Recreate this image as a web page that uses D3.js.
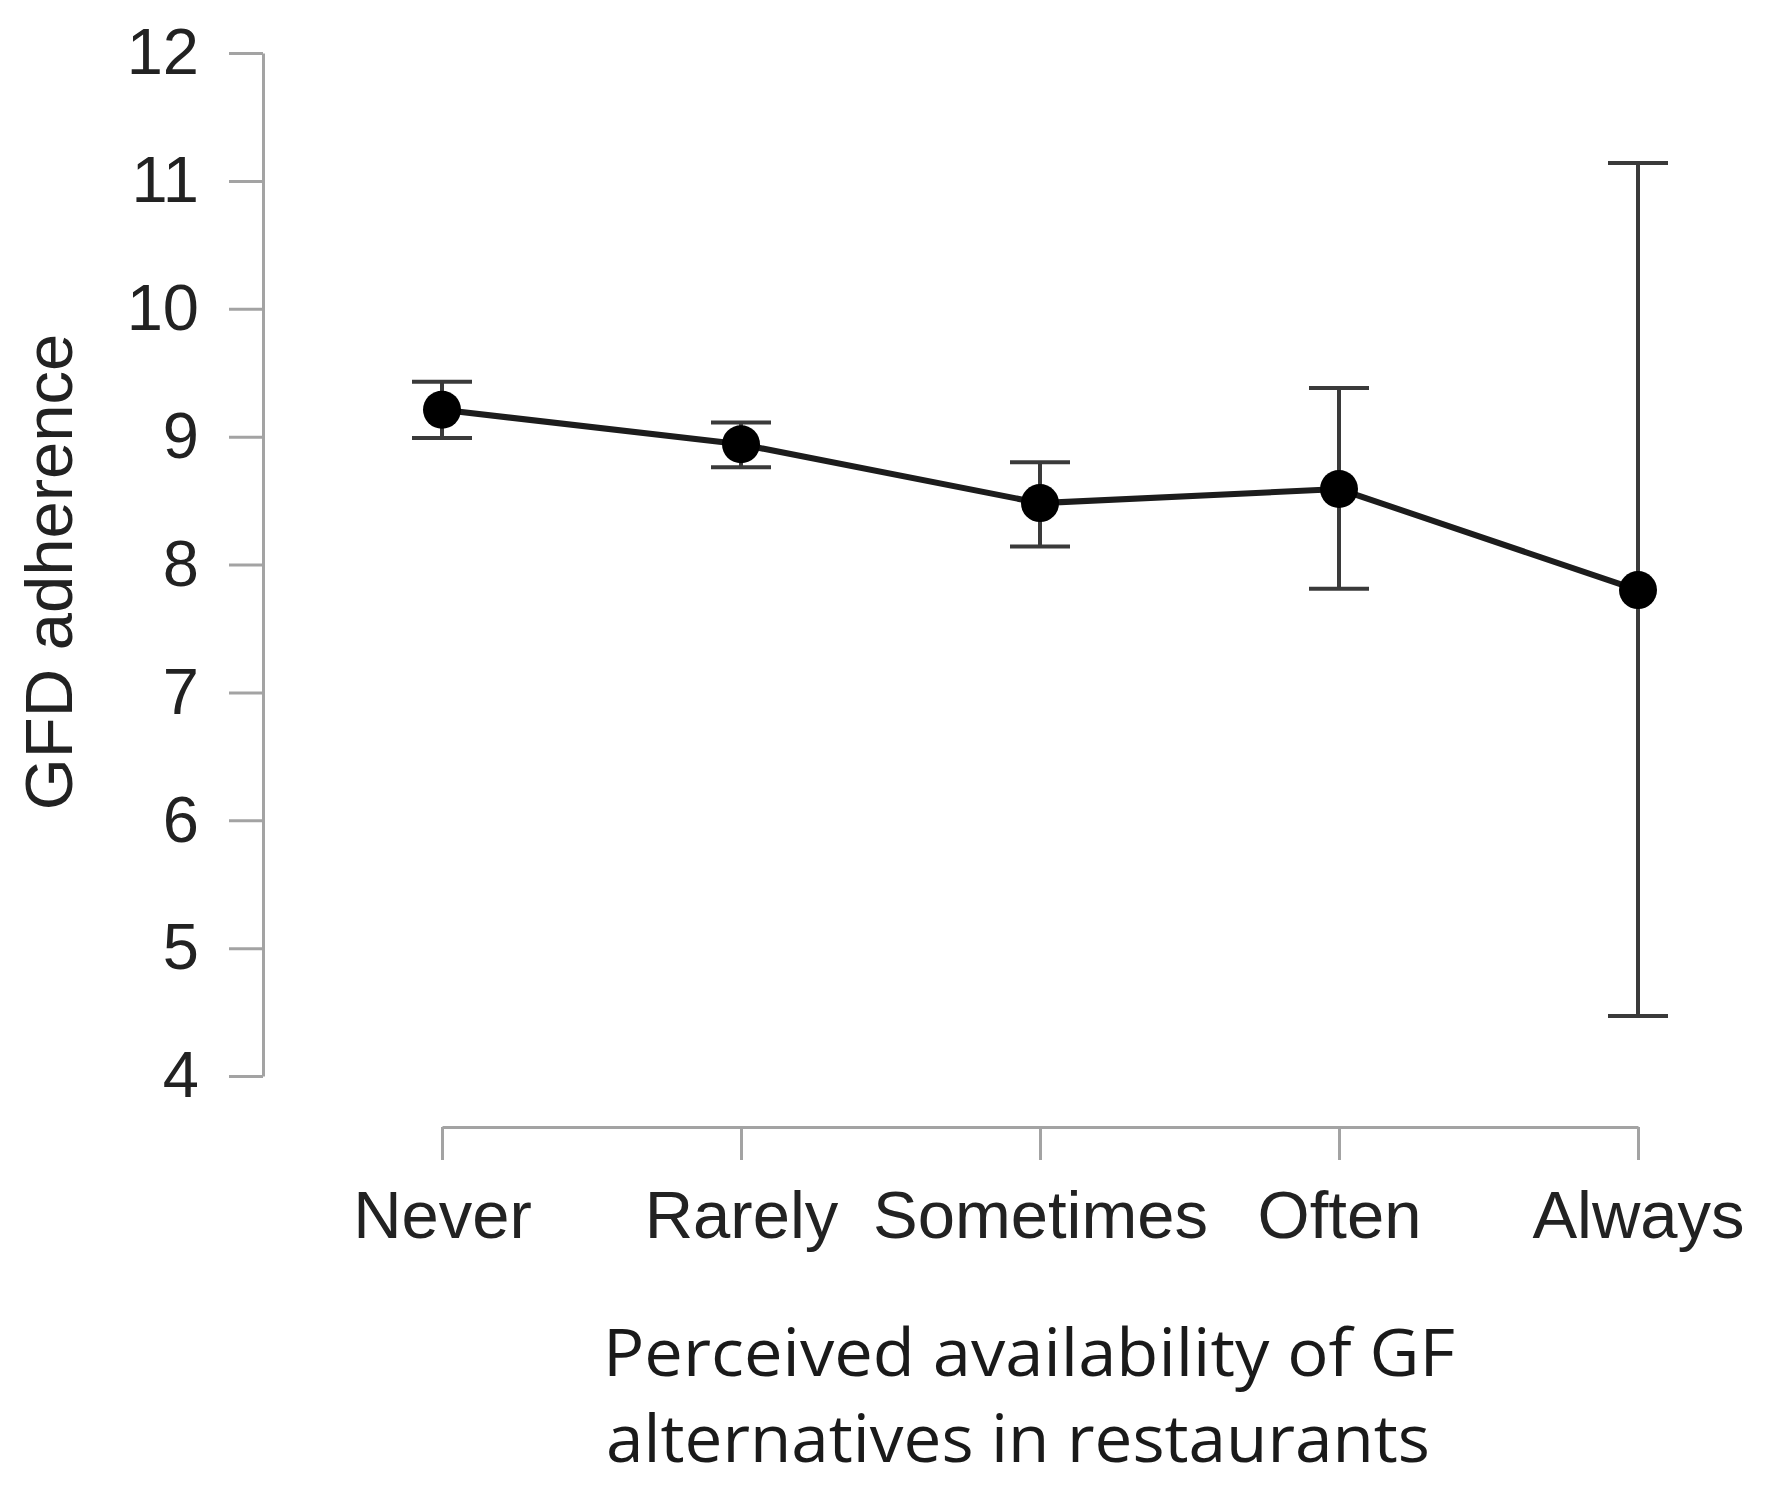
<!DOCTYPE html>
<html>
<head>
<meta charset="utf-8">
<script src="https://cdn.jsdelivr.net/npm/d3@7"></script>
<style>
  html, body { margin: 0; padding: 0; background: #fff; }
  svg { display: block; }
</style>
</head>
<body>
<svg id="chart" width="1779" height="1502"></svg>
<script>
const categories = ["Never", "Rarely", "Sometimes", "Often", "Always"];
const means = [9.21, 8.94, 8.48, 8.59, 7.80];
const lower = [8.99, 8.76, 8.14, 7.81, 4.47];
const upper = [9.43, 9.11, 8.80, 9.38, 11.14];
const yTicks = [4, 5, 6, 7, 8, 9, 10, 11, 12];
const yTitle = "GFD adherence";
const xTitleLines = ["Perceived availability of GF", "alternatives in restaurants"];

const data = categories.map((c, i) => ({ cat: c, m: means[i], lo: lower[i], hi: upper[i] }));

const svg = d3.select("#chart");
const x = d3.scalePoint().domain(categories).range([442, 1638]);
const y = d3.scaleLinear().domain([4, 12]).range([1076, 53]);

const axisColor = "#a3a3a3";
const labelFont = "'Liberation Sans', Arial, Helvetica, sans-serif";

// Y axis
const gy = svg.append("g").attr("transform", "translate(263,0)")
  .call(d3.axisLeft(y).tickValues(yTicks).tickFormat(d3.format("d")).tickSize(34).tickSizeOuter(0).tickPadding(30));
gy.select(".domain").attr("stroke", axisColor).attr("stroke-width", 3);
gy.selectAll(".tick line").attr("stroke", axisColor).attr("stroke-width", 3);
gy.selectAll(".tick text").attr("font-family", labelFont).attr("font-size", 65).attr("fill", "#222");

// X axis
const gx = svg.append("g").attr("transform", "translate(0,1127)")
  .call(d3.axisBottom(x).tickSize(33).tickSizeOuter(0).tickPadding(30));
gx.select(".domain").attr("stroke", axisColor).attr("stroke-width", 3);
gx.selectAll(".tick line").attr("stroke", axisColor).attr("stroke-width", 3);
gx.selectAll(".tick text").attr("font-family", labelFont).attr("font-size", 67).attr("fill", "#222");

// Error bars
const eb = svg.append("g").attr("stroke", "#3a3a3a").attr("stroke-width", 4).attr("fill", "none");
const capW = 30;
data.forEach(d => {
  const cx = x(d.cat);
  eb.append("line").attr("x1", cx).attr("x2", cx).attr("y1", y(d.lo)).attr("y2", y(d.hi));
  eb.append("line").attr("x1", cx - capW).attr("x2", cx + capW).attr("y1", y(d.lo)).attr("y2", y(d.lo));
  eb.append("line").attr("x1", cx - capW).attr("x2", cx + capW).attr("y1", y(d.hi)).attr("y2", y(d.hi));
});

// Line
svg.append("path").datum(data)
  .attr("fill", "none").attr("stroke", "#1c1c1c").attr("stroke-width", 6)
  .attr("d", d3.line().x(d => x(d.cat)).y(d => y(d.m)));

// Points
svg.append("g").selectAll("circle").data(data).join("circle")
  .attr("cx", d => x(d.cat)).attr("cy", d => y(d.m)).attr("r", 19).attr("fill", "#000");

// Y title
svg.append("text")
  .attr("transform", "translate(72,572) rotate(-90)")
  .attr("text-anchor", "middle")
  .attr("font-family", labelFont).attr("font-size", 67).attr("fill", "#222")
  .text(yTitle);

// X title
const xt = svg.append("g").attr("font-family", "'Open Sans', 'Noto Sans', sans-serif").attr("fill", "#1a1a1a");
xt.append("text").attr("x", 603).attr("y", 1376).attr("font-size", 66)
  .attr("textLength", 852).attr("lengthAdjust", "spacingAndGlyphs").text(xTitleLines[0]);
xt.append("text").attr("x", 606).attr("y", 1462).attr("font-size", 66)
  .attr("textLength", 824).attr("lengthAdjust", "spacingAndGlyphs").text(xTitleLines[1]);
</script>
</body>
</html>
